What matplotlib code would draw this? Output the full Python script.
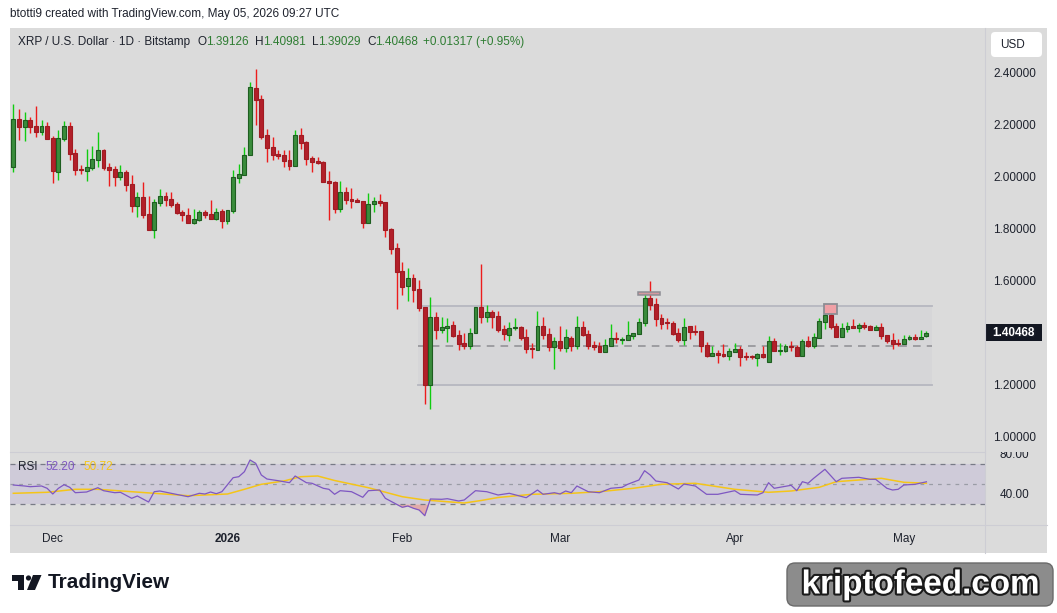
"""XRP/USD daily candles with RSI pane, TradingView snapshot style."""

import matplotlib

matplotlib.use("Agg")
import matplotlib.pyplot as plt
import matplotlib.patheffects as pe
import numpy as np
import pandas as pd
from matplotlib.lines import Line2D
from matplotlib.patches import Circle, FancyBboxPatch, Polygon, Rectangle
from matplotlib.transforms import blended_transform_factory

W, H = 1057, 613

FIRST_DAY = "2025-11-24"

opens = [
    2.044, 2.226, 2.197, 2.222, 2.200, 2.178, 2.200, 2.154, 2.024, 2.151,
    2.200, 2.096, 2.034, 2.028, 2.040, 2.070, 2.108, 2.042, 2.034, 2.005,
    2.023, 1.977, 1.894, 1.927, 1.862, 1.801, 1.905, 1.931, 1.919, 1.900,
    1.869, 1.858, 1.828, 1.840, 1.869, 1.862, 1.843, 1.873, 1.836, 1.874,
    2.001, 2.013, 2.087, 2.345, 2.303, 2.164, 2.118, 2.092, 2.087, 2.069,
    2.047, 2.164, 2.138, 2.077, 2.065, 2.061, 1.988, 1.985, 1.882, 1.946,
    1.919, 1.915, 1.912, 1.828, 1.899, 1.912, 1.908, 1.804, 1.731, 1.642,
    1.586, 1.615, 1.573, 1.505, 1.205, 1.465, 1.417, 1.423, 1.435, 1.396,
    1.365, 1.355, 1.402, 1.504, 1.467, 1.485, 1.469, 1.419, 1.398, 1.423,
    1.427, 1.388, 1.346, 1.338, 1.431, 1.400, 1.351, 1.373, 1.346, 1.385,
    1.354, 1.427, 1.400, 1.358, 1.354, 1.331, 1.354, 1.385, 1.377, 1.377,
    1.392, 1.400, 1.442, 1.539, 1.515, 1.462, 1.446, 1.442, 1.404, 1.377,
    1.431, 1.412, 1.412, 1.358, 1.315, 1.327, 1.323, 1.315, 1.331, 1.342,
    1.315, 1.315, 1.308, 1.323, 1.292, 1.373, 1.335, 1.335, 1.354, 1.350,
    1.315, 1.373, 1.354, 1.385, 1.446, 1.473, 1.431, 1.389, 1.419, 1.431,
    1.423, 1.435, 1.431, 1.415, 1.427, 1.396, 1.377, 1.365, 1.362, 1.381,
    1.389, 1.381, 1.39126,
]
highs = [
    2.285, 2.264, 2.254, 2.235, 2.277, 2.223, 2.215, 2.161, 2.185, 2.219,
    2.215, 2.111, 2.050, 2.111, 2.123, 2.177, 2.111, 2.058, 2.046, 2.050,
    2.031, 2.011, 1.946, 1.985, 1.931, 1.918, 1.958, 1.946, 1.946, 1.908,
    1.877, 1.884, 1.881, 1.877, 1.877, 1.915, 1.884, 1.881, 1.877, 2.031,
    2.054, 2.119, 2.369, 2.419, 2.319, 2.187, 2.158, 2.108, 2.108, 2.108,
    2.185, 2.192, 2.142, 2.085, 2.081, 2.065, 2.027, 1.988, 1.990, 1.965,
    1.962, 1.923, 1.912, 1.942, 1.927, 1.939, 1.908, 1.808, 1.750, 1.677,
    1.654, 1.631, 1.608, 1.505, 1.542, 1.485, 1.465, 1.462, 1.450, 1.415,
    1.404, 1.423, 1.504, 1.669, 1.512, 1.492, 1.489, 1.435, 1.446, 1.462,
    1.431, 1.419, 1.365, 1.489, 1.465, 1.423, 1.389, 1.431, 1.419, 1.392,
    1.469, 1.450, 1.415, 1.373, 1.369, 1.381, 1.439, 1.408, 1.389, 1.450,
    1.404, 1.462, 1.554, 1.604, 1.539, 1.477, 1.462, 1.450, 1.423, 1.462,
    1.431, 1.435, 1.412, 1.369, 1.354, 1.339, 1.362, 1.346, 1.365, 1.354,
    1.331, 1.319, 1.327, 1.354, 1.392, 1.385, 1.365, 1.362, 1.373, 1.358,
    1.381, 1.392, 1.404, 1.462, 1.481, 1.481, 1.442, 1.442, 1.446, 1.458,
    1.442, 1.446, 1.435, 1.435, 1.442, 1.396, 1.404, 1.381, 1.396, 1.396,
    1.400, 1.415, 1.40981,
]
lows = [
    2.024, 2.146, 2.144, 2.174, 2.159, 2.165, 2.151, 1.982, 1.992, 2.143,
    2.070, 2.012, 2.017, 1.990, 2.031, 2.044, 2.031, 1.969, 1.969, 1.992,
    1.951, 1.869, 1.851, 1.847, 1.801, 1.770, 1.894, 1.894, 1.890, 1.861,
    1.836, 1.828, 1.824, 1.836, 1.847, 1.843, 1.840, 1.809, 1.824, 1.867,
    1.982, 2.013, 2.087, 2.205, 2.151, 2.063, 2.070, 2.074, 2.044, 2.031,
    2.047, 2.113, 2.051, 2.024, 2.055, 1.986, 1.840, 1.867, 1.871, 1.901,
    1.886, 1.908, 1.809, 1.828, 1.871, 1.892, 1.774, 1.709, 1.498, 1.551,
    1.528, 1.524, 1.490, 1.132, 1.113, 1.382, 1.405, 1.371, 1.388, 1.340,
    1.344, 1.344, 1.402, 1.444, 1.446, 1.423, 1.408, 1.377, 1.373, 1.415,
    1.377, 1.327, 1.308, 1.338, 1.381, 1.335, 1.265, 1.335, 1.331, 1.335,
    1.342, 1.392, 1.342, 1.338, 1.331, 1.331, 1.354, 1.365, 1.362, 1.377,
    1.381, 1.400, 1.431, 1.492, 1.431, 1.419, 1.419, 1.396, 1.369, 1.358,
    1.381, 1.396, 1.331, 1.312, 1.315, 1.289, 1.312, 1.300, 1.331, 1.277,
    1.300, 1.304, 1.277, 1.308, 1.292, 1.335, 1.319, 1.331, 1.335, 1.315,
    1.315, 1.350, 1.346, 1.385, 1.419, 1.419, 1.389, 1.389, 1.408, 1.423,
    1.408, 1.419, 1.415, 1.415, 1.381, 1.365, 1.342, 1.354, 1.362, 1.377,
    1.377, 1.381, 1.39029,
]
closes = [
    2.226, 2.197, 2.222, 2.197, 2.178, 2.200, 2.151, 2.028, 2.154, 2.200,
    2.094, 2.032, 2.032, 2.041, 2.072, 2.108, 2.040, 2.031, 2.005, 2.022,
    1.974, 1.892, 1.927, 1.859, 1.801, 1.906, 1.929, 1.917, 1.897, 1.867,
    1.859, 1.828, 1.841, 1.868, 1.859, 1.843, 1.870, 1.836, 1.876, 2.003,
    2.014, 2.087, 2.349, 2.301, 2.159, 2.117, 2.090, 2.085, 2.067, 2.047,
    2.164, 2.136, 2.073, 2.063, 2.058, 1.986, 1.982, 1.882, 1.946, 1.915,
    1.912, 1.908, 1.827, 1.900, 1.912, 1.904, 1.801, 1.728, 1.640, 1.582,
    1.615, 1.571, 1.501, 1.205, 1.465, 1.417, 1.427, 1.431, 1.392, 1.363,
    1.355, 1.404, 1.504, 1.467, 1.485, 1.467, 1.415, 1.400, 1.422, 1.427,
    1.385, 1.342, 1.342, 1.431, 1.396, 1.351, 1.373, 1.346, 1.389, 1.354,
    1.427, 1.396, 1.354, 1.350, 1.331, 1.358, 1.385, 1.381, 1.381, 1.396,
    1.404, 1.446, 1.539, 1.512, 1.458, 1.439, 1.442, 1.400, 1.377, 1.427,
    1.408, 1.408, 1.354, 1.315, 1.327, 1.319, 1.315, 1.335, 1.342, 1.312,
    1.312, 1.312, 1.323, 1.312, 1.373, 1.335, 1.339, 1.354, 1.350, 1.315,
    1.373, 1.354, 1.389, 1.450, 1.473, 1.427, 1.389, 1.423, 1.431, 1.423,
    1.435, 1.427, 1.415, 1.427, 1.392, 1.373, 1.362, 1.362, 1.381, 1.389,
    1.381, 1.389, 1.40468,
]

rsi_day = [
    0, 2, 3, 5, 6, 7, 8, 9, 10, 11, 13, 15, 16, 18, 19, 21, 22, 24, 25, 26,
    28, 31, 33, 34, 35, 36, 37, 39, 40, 41, 42, 43, 44, 45, 47, 49, 50, 51, 52, 53,
    55, 56, 57, 58, 60, 62, 63, 65, 66, 68, 69, 70, 71, 72, 73, 74, 76, 77, 79, 80,
    82, 84, 86, 88, 91, 93, 94, 96, 97, 98, 99, 100, 102, 104, 106, 108, 109, 111, 112, 113,
    114, 116, 118, 119, 121, 123, 125, 128, 129, 132, 133, 134, 135, 136, 138, 139, 140, 141, 142, 144,
    146, 147, 150, 152, 153, 155, 156, 157, 158, 160, 162,
]
rsi_value = [
    49.0, 48.0, 47.3, 48.0, 45.7, 40.0, 45.7, 49.3, 46.7, 41.3, 42.0, 46.3, 43.3, 41.3, 41.7, 35.7, 38.0, 32.0, 42.3, 43.0,
    40.7, 37.3, 40.7, 40.0, 42.0, 40.3, 42.3, 56.3, 57.3, 62.3, 74.0, 70.7, 59.0, 55.0, 53.3, 51.3, 58.0, 54.7, 51.3, 50.7,
    45.7, 44.7, 39.7, 43.3, 42.3, 36.7, 43.3, 44.0, 35.7, 29.7, 26.7, 28.0, 25.7, 24.0, 18.3, 35.0, 34.7, 35.3, 33.0, 34.0,
    43.3, 42.3, 39.0, 40.7, 36.3, 44.0, 39.7, 41.3, 40.0, 43.0, 41.3, 48.0, 42.3, 41.3, 45.7, 46.7, 49.7, 54.0, 63.3, 59.0,
    53.0, 51.3, 45.0, 50.0, 48.0, 39.7, 39.7, 43.3, 39.7, 39.0, 41.3, 51.3, 45.7, 46.7, 48.7, 43.3, 52.3, 50.7, 55.7, 64.7,
    52.3, 55.7, 56.7, 54.7, 54.7, 45.7, 44.0, 44.7, 49.0, 49.7, 52.2,
]
ma_day = [
    0, 6, 11, 15, 21, 31, 38, 41, 44, 48, 51, 54, 57, 63, 69, 73, 80, 83, 86, 92,
    99, 104, 110, 115, 121, 128, 134, 138, 143, 146, 154, 158, 162,
]
ma_value = [
    40.7, 41.7, 44.7, 44.7, 42.3, 38.3, 40.0, 44.7, 49.7, 53.0, 57.3, 58.0, 53.5, 46.3, 37.3, 34.0, 31.0, 33.5, 36.5, 39.7,
    40.7, 42.3, 45.7, 49.7, 50.7, 44.7, 41.7, 43.0, 46.7, 52.3, 55.7, 51.7, 50.72,
]

price_ticks = [2.4, 2.2, 2.0, 1.8, 1.6, 1.4, 1.2, 1.0]
rsi_ticks = [80, 40]

# drawings on the chart
RANGE_LEFT, RANGE_RIGHT = 71.8, 163.0
RANGE_TOP, RANGE_MID, RANGE_BOTTOM = 1.5065, 1.354, 1.2026

BG = "#dbdbdb"
TEXT = "#1e222d"
VALUE_GREEN = "#2e7d32"
BODY_UP, EDGE_UP, WICK_UP = "#3a8c3c", "#1e5e20", "#10cc10"
BODY_DN, EDGE_DN, WICK_DN = "#b2202a", "#a01b22", "#ec1c1c"
RSI_COLOR, MA_COLOR = "#7e57c2", "#f5c518"

plt.rcParams["font.family"] = ["Liberation Sans", "DejaVu Sans"]

fig = plt.figure(figsize=(W / 100, H / 100), dpi=100)
fig.patch.set_facecolor("white")


def box(x0, y0, x1, y1):
    return [x0 / W, 1 - y1 / H, (x1 - x0) / W, (y1 - y0) / H]


# underlay: grey snapshot panel
under = fig.add_axes([0, 0, 1, 1], zorder=-5)
under.set_xlim(0, W)
under.set_ylim(H, 0)
under.axis("off")
under.add_patch(Rectangle((10, 28), 1037, 525, fc=BG, ec="none"))

dates = pd.date_range(FIRST_DAY, periods=len(closes), freq="D")
x = np.arange(len(closes))
o, h, l, c = (np.array(v) for v in (opens, highs, lows, closes))
up = c >= o
xlim = (-0.59, 172.4)

# price pane
ax = fig.add_axes(box(10, 28, 985, 452))
ax.set_facecolor("none")
ax.set_xlim(*xlim)
ax.set_ylim(0.9462, 2.5769)
ax.axis("off")

ax.add_patch(Rectangle((RANGE_LEFT, RANGE_BOTTOM), RANGE_RIGHT - RANGE_LEFT, RANGE_TOP - RANGE_BOTTOM,
                       fc="#d3d3d7", ec="none", alpha=0.6, zorder=1))
for level in (RANGE_TOP, RANGE_BOTTOM):
    ax.plot([RANGE_LEFT, RANGE_RIGHT], [level, level], color="#b6b7c0", lw=1.3, zorder=1.5)
ax.plot([RANGE_LEFT, RANGE_RIGHT], [RANGE_MID, RANGE_MID], color="#8e8e92", lw=1.1,
        dashes=(5, 4), zorder=1.5)

ax.vlines(x, l, h, colors=np.where(up, WICK_UP, WICK_DN), lw=1.0, zorder=2)
ax.bar(x, np.maximum(np.abs(c - o), 0.003), bottom=np.minimum(o, c), width=0.7,
       color=np.where(up, BODY_UP, BODY_DN), edgecolor=np.where(up, EDGE_UP, EDGE_DN),
       linewidth=0.8, zorder=3)

ax.add_patch(Rectangle((110.8, 1.5505), 3.9, 0.011, fc="#d49aa0", ec="#8d8d94", lw=1.1, zorder=4))
ax.add_patch(Rectangle((143.9, 1.477), 2.2, 0.0384, fc="#f0a0a6", ec="#8d8d94", lw=1.3, zorder=4))

# RSI pane
ar = fig.add_axes(box(10, 452, 985, 525))
ar.set_facecolor("none")
ar.set_xlim(*xlim)
ar.set_ylim(9, 82)
for s in ar.spines.values():
    s.set_visible(False)
ar.set_yticks([])
ar.axhspan(30, 70, color="#cfcbd9", lw=0, zorder=0)
ar.axhline(70, color="#787b86", lw=0.9, dashes=(4, 4))
ar.axhline(50, color="#9a9ca6", lw=0.9, dashes=(3, 4))
ar.axhline(30, color="#787b86", lw=0.9, dashes=(4, 4))
rd, rv = np.array(rsi_day), np.array(rsi_value)
ar.fill_between(rd, rv, 70, where=rv > 70, interpolate=True, color="#4caf50", alpha=0.25, lw=0)
ar.fill_between(rd, rv, 30, where=rv < 30, interpolate=True, color="#ef5350", alpha=0.35, lw=0)
ar.plot(ma_day, ma_value, color=MA_COLOR, lw=1.1, zorder=3)
ar.plot(rsi_day, rsi_value, color=RSI_COLOR, lw=0.9, zorder=4)

month_pos = [i for i, d in enumerate(dates) if d.day == 1]
month_lab = ["2026" if dates[i].month == 1 else dates[i].strftime("%b") for i in month_pos]
ar.set_xticks(month_pos, month_lab)
ar.tick_params(axis="x", length=0, pad=6, labelsize=8.5, labelcolor=TEXT)
for t in ar.get_xticklabels():
    if t.get_text() == "2026":
        t.set_fontweight("bold")

# price scales
ap = fig.add_axes(box(985, 28, 1047, 452))
ap.set_facecolor("none")
ap.set_xlim(0, 1)
ap.set_ylim(ax.get_ylim())
ap.axis("off")
for p in price_ticks:
    ap.text(0.13, p, f"{p:.5f}", fontsize=8.5, color=TEXT, va="center", ha="left", clip_on=True)
blend = blended_transform_factory(ap.transAxes, ap.transData)
ap.add_patch(Rectangle((0.016, c[-1] - 0.033), 0.9, 0.066, transform=blend, fc="#131722", ec="none"))
ap.text(0.46, c[-1], f"{c[-1]:.5f}", transform=blend, color="white", fontsize=8.5,
        fontweight="bold", ha="center", va="center")

arp = fig.add_axes(box(985, 452, 1047, 525))
arp.set_facecolor("none")
arp.set_xlim(0, 1)
arp.set_ylim(ar.get_ylim())
arp.axis("off")
for v in rsi_ticks:
    arp.text(0.24, v - 1.5, f"{v:.2f}", fontsize=8.5, color=TEXT, va="center", ha="left", clip_on=True)

# overlay: texts, separators, logos
ov = fig.add_axes([0, 0, 1, 1], zorder=10)
ov.set_xlim(0, W)
ov.set_ylim(H, 0)
ov.axis("off")
ov.set_facecolor("none")
renderer = fig.canvas.get_renderer()

for (xa, ya), (xb, yb) in (((10, 452), (985, 452)), ((10, 525), (1047, 525)), ((985, 28), (985, 553))):
    ov.add_artist(Line2D([xa, xb], [ya, yb], color="#cdcdd4", lw=0.8))


def run_text(x0, y0, pieces, size):
    xc = x0
    for s, col, gap in pieces:
        t = ov.text(xc, y0, s, color=col, fontsize=size, va="center", ha="left")
        xc += t.get_window_extent(renderer).width + gap


ov.text(10, 14, "btotti9 created with TradingView.com, May 05, 2026 09:27 UTC",
        fontsize=8.5, color=TEXT, va="center", ha="left")
run_text(18, 42, [
    ("XRP / U.S. Dollar · 1D · Bitstamp", TEXT, 7),
    ("O", TEXT, 0), ("1.39126", VALUE_GREEN, 6),
    ("H", TEXT, 0), ("1.40981", VALUE_GREEN, 6),
    ("L", TEXT, 0), ("1.39029", VALUE_GREEN, 6),
    ("C", TEXT, 0), ("1.40468", VALUE_GREEN, 5),
    ("+0.01317 (+0.95%)", VALUE_GREEN, 0),
], 8.5)
run_text(18, 467, [("RSI", TEXT, 8), ("52.20", RSI_COLOR, 8), ("50.72", MA_COLOR, 0)], 8.5)

ov.add_patch(FancyBboxPatch((991, 32), 51, 25, boxstyle="round,pad=0,rounding_size=4",
                            fc="white", ec="none"))
ov.text(1000, 45, "USD", fontsize=8.5, color=TEXT, va="center", ha="left")

# TradingView logo mark
ov.add_patch(Polygon([(12, 575), (24, 575), (24, 590), (18, 590), (18, 580.5), (12, 580.5)],
                     closed=True, fc="#131722", ec="none"))
ov.add_patch(Circle((28.5, 578), 2.6, fc="#131722", ec="none"))
ov.add_patch(Polygon([(33, 575), (41.5, 575), (35, 590), (27, 590)], closed=True, fc="#131722", ec="none"))
tv = ov.text(48, 582, "TradingView", fontsize=14, fontweight="bold", color="#131722",
             va="center", ha="left")
tv.set_fontsize(14 * 122 / tv.get_window_extent(renderer).width)

ov.add_patch(FancyBboxPatch((787, 563), 266, 43, boxstyle="round,pad=0,rounding_size=8",
                            fc="#8c8c8c", ec="#6a6a6a", lw=1))
wm = ov.text(920, 585, "kriptofeed.com", fontsize=20, fontweight="bold", color="white",
             va="center", ha="center",
             path_effects=[pe.withStroke(linewidth=3, foreground="#1a1a1a")])
wm.set_fontsize(20 * 238 / wm.get_window_extent(renderer).width)

fig.savefig("out.png", dpi=100, facecolor=fig.get_facecolor())
